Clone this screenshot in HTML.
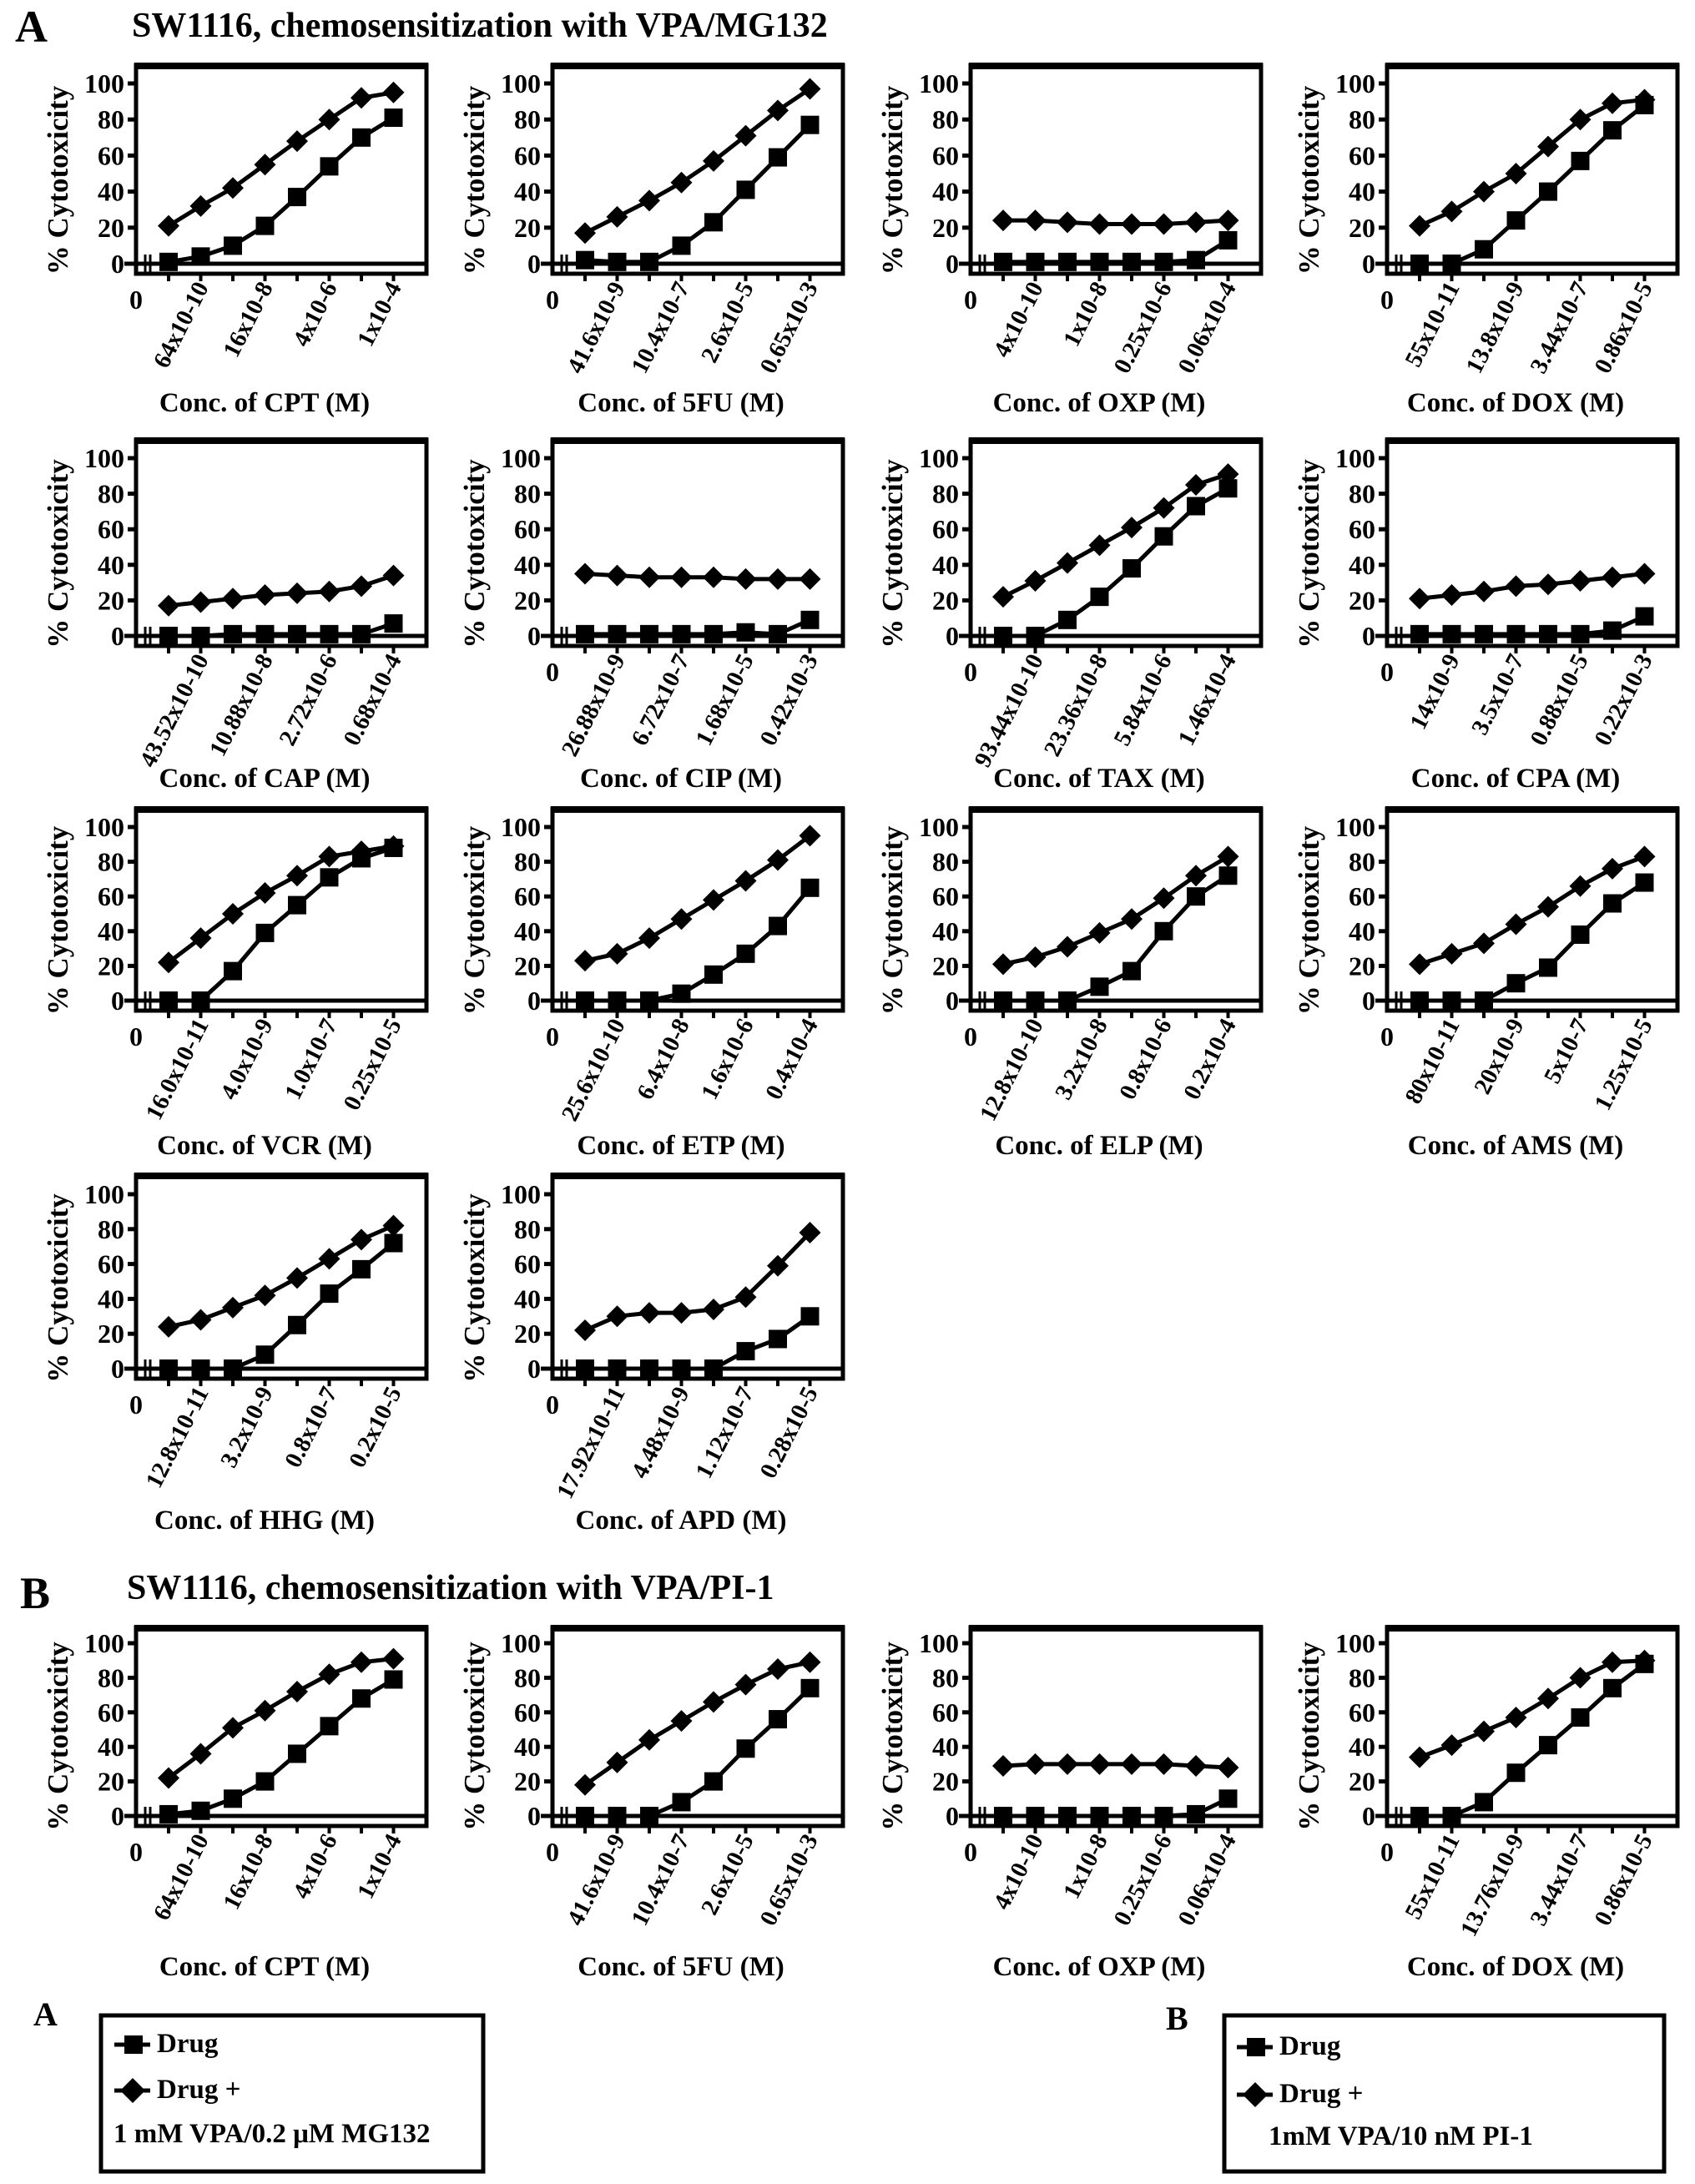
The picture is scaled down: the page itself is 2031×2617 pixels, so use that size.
<!DOCTYPE html>
<html><head><meta charset="utf-8"><style>
html,body{margin:0;padding:0;background:#fff;}
svg{display:block;font-family:"Liberation Serif",serif;font-weight:bold;}
</style></head><body>
<svg id="fig" width="2031" height="2617" viewBox="0 0 2031 2617" xmlns="http://www.w3.org/2000/svg">
<rect x="0" y="0" width="2031" height="2617" fill="#fff"/>
<text x="18" y="50" font-size="54">A</text>
<text x="158" y="44" font-size="42">SW1116, chemosensitization with VPA/MG132</text>
<text x="24" y="1927" font-size="54">B</text>
<text x="152" y="1916" font-size="42">SW1116, chemosensitization with VPA/PI-1</text>
<g id="charts"></g>
<g>
<rect x="121" y="2415" width="458" height="187" fill="none" stroke="#000" stroke-width="5"/>
<line x1="137" y1="2450" x2="180" y2="2450" stroke="#000" stroke-width="5"/>
<rect x="149" y="2439" width="22" height="22" fill="#000"/>
<text x="188" y="2459" font-size="33">Drug</text>
<line x1="137" y1="2505" x2="180" y2="2505" stroke="#000" stroke-width="5"/>
<polygon points="159,2490 174,2505 159,2520 144,2505" fill="#000"/>
<text x="188" y="2514" font-size="33">Drug +</text>
<text x="136" y="2567" font-size="33">1 mM VPA/0.2 μM MG132</text>
</g>
<text x="40" y="2427" font-size="40">A</text>
<g>
<rect x="1467" y="2415" width="527" height="187" fill="none" stroke="#000" stroke-width="5"/>
<line x1="1482" y1="2453" x2="1525" y2="2453" stroke="#000" stroke-width="5"/>
<rect x="1494" y="2442" width="22" height="22" fill="#000"/>
<text x="1533" y="2462" font-size="33">Drug</text>
<line x1="1482" y1="2510" x2="1525" y2="2510" stroke="#000" stroke-width="5"/>
<polygon points="1504,2495 1519,2510 1504,2525 1489,2510" fill="#000"/>
<text x="1533" y="2519" font-size="33">Drug +</text>
<text x="1520" y="2570" font-size="33">1mM VPA/10 nM PI-1</text>
</g>
<text x="1397" y="2432" font-size="40">B</text>
</svg>
<script>
// ---- data ----
const drugNames = ["CPT","5FU","OXP","DOX","CAP","CIP","TAX","CPA","VCR","ETP","ELP","AMS","HHG","APD","CPT","5FU","OXP","DOX"];
const drugValues = [
 [1,4,10,21,37,54,70,81],
 [2,1,1,10,23,41,59,77],
 [1,1,1,1,1,1,2,13],
 [0,0,8,24,40,57,74,88],
 [0,0,1,1,1,1,1,7],
 [1,1,1,1,1,2,1,9],
 [0,0,9,22,38,56,73,83],
 [1,1,1,1,1,1,3,11],
 [0,0,17,39,55,71,82,88],
 [0,0,0,4,15,27,43,65],
 [0,0,0,8,17,40,60,72],
 [0,0,0,10,19,38,56,68],
 [0,0,0,8,25,43,57,72],
 [0,0,0,0,0,10,17,30],
 [1,3,10,20,36,52,68,79],
 [0,0,0,8,20,39,56,74],
 [0,0,0,0,0,0,1,10],
 [0,0,8,25,41,57,74,88]
];
const comboValues = [
 [21,32,42,55,68,80,92,95],
 [17,26,35,45,57,71,85,97],
 [24,24,23,22,22,22,23,24],
 [21,29,40,50,65,80,89,91],
 [17,19,21,23,24,25,28,34],
 [35,34,33,33,33,32,32,32],
 [22,31,41,51,61,72,85,91],
 [21,23,25,28,29,31,33,35],
 [22,36,50,62,72,83,86,89],
 [23,27,36,47,58,69,81,95],
 [21,25,31,39,47,59,72,83],
 [21,27,33,44,54,66,76,83],
 [24,28,35,42,52,63,74,82],
 [22,30,32,32,34,41,59,78],
 [22,36,51,61,72,82,89,91],
 [18,31,44,55,66,76,85,89],
 [29,30,30,30,30,30,29,28],
 [34,41,49,57,68,80,89,90]
];
const xTickLabels = [
 ["64x10-10","16x10-8","4x10-6","1x10-4"],
 ["41.6x10-9","10.4x10-7","2.6x10-5","0.65x10-3"],
 ["4x10-10","1x10-8","0.25x10-6","0.06x10-4"],
 ["55x10-11","13.8x10-9","3.44x10-7","0.86x10-5"],
 ["43.52x10-10","10.88x10-8","2.72x10-6","0.68x10-4"],
 ["26.88x10-9","6.72x10-7","1.68x10-5","0.42x10-3"],
 ["93.44x10-10","23.36x10-8","5.84x10-6","1.46x10-4"],
 ["14x10-9","3.5x10-7","0.88x10-5","0.22x10-3"],
 ["16.0x10-11","4.0x10-9","1.0x10-7","0.25x10-5"],
 ["25.6x10-10","6.4x10-8","1.6x10-6","0.4x10-4"],
 ["12.8x10-10","3.2x10-8","0.8x10-6","0.2x10-4"],
 ["80x10-11","20x10-9","5x10-7","1.25x10-5"],
 ["12.8x10-11","3.2x10-9","0.8x10-7","0.2x10-5"],
 ["17.92x10-11","4.48x10-9","1.12x10-7","0.28x10-5"],
 ["64x10-10","16x10-8","4x10-6","1x10-4"],
 ["41.6x10-9","10.4x10-7","2.6x10-5","0.65x10-3"],
 ["4x10-10","1x10-8","0.25x10-6","0.06x10-4"],
 ["55x10-11","13.76x10-9","3.44x10-7","0.86x10-5"]
];
const yTicks = [0,20,40,60,80,100];
const showZero = [1,1,1,1,0,1,1,1,1,1,1,1,1,1,1,1,1,1];

// ---- layout ----
const colLeft = [163, 662, 1163, 1662];
const rowGeom = [ // [boxTop, y100, y0, titleY]
 [78,100,316,493],[527,549,762,943],[969,991,1199,1383],[1408,1431,1640,1832],[1950,1969,2176,2367]
];
const NS = "http://www.w3.org/2000/svg";
const root = document.getElementById('charts');
function mk(tag, attrs, parent){
  const e = document.createElementNS(NS, tag);
  for (const k in attrs) e.setAttribute(k, attrs[k]);
  (parent||root).appendChild(e); return e;
}
drugNames.forEach((name, p) => {
  const row = p < 14 ? Math.floor(p/4) : 4;
  const col = p < 14 ? p % 4 : p - 14;
  const L = colLeft[col], R = L + 348;
  const [top, y100, y0, titleY] = rowGeom[row];
  const yS = v => y0 - (y0 - y100) * v / 100;
  const xS = i => L + 39 + 38.5 * i;
  const g = mk('g', {});
  
  
  const bottom = y0 + 12;
  const fr = mk('rect', {x:L, y:top, width:R-L, height:bottom-top, fill:'none', stroke:'#000', 'stroke-width':5}, g);
  
  
  mk('line', {x1:L-2, y1:top+1, x2:R+2, y2:top+1, stroke:'#000','stroke-width':8}, g);
  const zl = mk('line', {x1:L-14, y1:y0, x2:R, y2:y0, stroke:'#000','stroke-width':5}, g);
  
  
  mk('line', {x1:L+11, y1:y0-11, x2:L+11, y2:y0+11, stroke:'#000','stroke-width':3}, g);
  mk('line', {x1:L+17, y1:y0-11, x2:L+17, y2:y0+11, stroke:'#000','stroke-width':3}, g);
  yTicks.forEach(t => {
    const y = yS(t);
    mk('line', {x1:L-10, y1:y, x2:L, y2:y, stroke:'#000','stroke-width':5}, g);
    const tl = mk('text', {x:L-14, y:y+11, 'font-size':32, 'text-anchor':'end'}, g);
    tl.textContent = t;
    
    
  });
  for (let i = 0; i < 8; i++) {
    mk('line', {x1:xS(i), y1:bottom, x2:xS(i), y2:bottom+9, stroke:'#000','stroke-width':4}, g);
  }
  xTickLabels[p].forEach((lab, k) => {
    const x = xS(2*k+1) + 10, y = bottom + 16;
    const tl = mk('text', {x:x, y:y, 'font-size':29, 'text-anchor':'end', transform:`rotate(-63 ${x} ${y})`}, g);
    tl.textContent = lab;
    
    
  });
  if (showZero[p]) {
    const z = mk('text', {x:L, y:bottom+42, 'font-size':32, 'text-anchor':'middle'}, g);
    z.textContent = '0';
    
    
  }
  const cy = (y0+y100)/2+8;
  const yt = mk('text', {x:L-82, y:cy, 'font-size':35, 'text-anchor':'middle', transform:`rotate(-90 ${L-82} ${cy})`}, g);
  yt.textContent = '% Cytotoxicity';
  
  
  const xt = mk('text', {x:L+154, y:titleY, 'font-size':33, 'text-anchor':'middle'}, g);
  xt.textContent = 'Conc. of ' + name + ' (M)';
  
  
  const dpts = drugValues[p].map((v,i) => xS(i)+','+yS(v)).join(' ');
  const dl = mk('polyline', {points:dpts, fill:'none', stroke:'#000','stroke-width':5}, g);
  
  
  const cpts = comboValues[p].map((v,i) => xS(i)+','+yS(v)).join(' ');
  const cl = mk('polyline', {points:cpts, fill:'none', stroke:'#000','stroke-width':5}, g);
  
  
  drugValues[p].forEach((v,i) => {
    const m = mk('rect', {x:xS(i)-11, y:yS(v)-11, width:22, height:22, fill:'#000'}, g);
    
    
  });
  comboValues[p].forEach((v,i) => {
    const x = xS(i), y = yS(v);
    const m = mk('polygon', {points:`${x},${y-13} ${x+13},${y} ${x},${y+13} ${x-13},${y}`, fill:'#000'}, g);
    
    
  });
});
</script>
</body></html>
